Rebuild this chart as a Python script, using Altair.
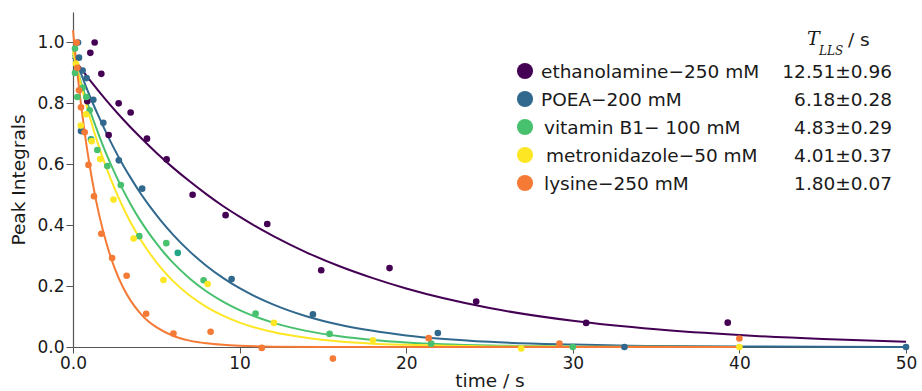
import altair as alt
import pandas as pd

series = ["ethanolamine\u2212250 mM", "POEA\u2212200 mM", "vitamin B1\u2212 100 mM",
          "metronidazole\u221250 mM", "lysine\u2212250 mM"]
colors = ["#440154", "#31688e", "#48c16e", "#fde725", "#f47a35"]
t_lls = ["12.51\u00b10.96", "6.18\u00b10.28", "4.83\u00b10.29", "4.01\u00b10.37", "1.80\u00b10.07"]
label_shift = [0, 0, 3, 5, 3]
extra_name = "extra"
extra_color = "#21a585"

# measured points (time / s, peak integral)
eth_t = [0.86, 1.04, 1.3, 1.7, 2.14, 2.74, 3.46, 4.44, 5.62, 7.18, 9.16, 11.66, 14.9, 19.0, 24.2, 30.8, 39.3]
eth_v = [0.807, 0.966, 1.0, 0.897, 0.696, 0.80, 0.77, 0.684, 0.616, 0.50, 0.433, 0.404, 0.252, 0.259, 0.149, 0.079, 0.08]

poea_t = [0.3, 0.36, 0.58, 0.82, 1.22, 1.82, 0.48, 2.75, 4.15, 9.52, 14.4, 21.9, 33.1, 50.0]
poea_v = [1.0, 0.95, 0.908, 0.883, 0.812, 0.736, 0.709, 0.613, 0.52, 0.223, 0.107, 0.046, 0.0, 0.0]

vit_t = [0.12, 0.12, 0.58, 0.26, 0.8, 1.0, 1.46, 2.06, 2.87, 3.98, 5.6, 7.84, 10.96, 15.4, 21.5, 30.0]
vit_v = [0.98, 0.90, 0.851, 0.821, 0.821, 0.777, 0.647, 0.594, 0.532, 0.364, 0.341, 0.219, 0.11, 0.043, 0.011, 0.0]

met_t = [0.18, 0.78, 0.47, 1.12, 1.63, 2.43, 3.64, 5.43, 8.08, 12.06, 18.0, 26.9, 40.0]
met_v = [0.93, 0.764, 0.727, 0.676, 0.617, 0.484, 0.356, 0.22, 0.207, 0.079, 0.022, -0.005, 0.0]

lys_t = [0.22, 0.26, 0.36, 0.48, 0.7, 0.93, 1.26, 1.7, 2.35, 3.22, 4.39, 6.03, 8.26, 11.33, 15.6, 21.35, 29.2, 40.0]
lys_v = [1.0, 0.917, 0.843, 0.787, 0.705, 0.598, 0.495, 0.372, 0.292, 0.234, 0.109, 0.044, 0.05, -0.003, -0.038, 0.029, 0.011, 0.028]

extra_t = [1.08, 6.29]
extra_v = [0.682, 0.309]

# fitted curves
eth_ct = [0, 1, 2, 3, 4, 5, 6, 7, 8, 9, 10, 11, 12, 14, 16, 18, 20, 25, 30, 35, 40, 45, 50]
eth_cv = [0.950, 0.877, 0.810, 0.748, 0.691, 0.638, 0.589, 0.544, 0.502, 0.463, 0.428, 0.395, 0.365,
          0.311, 0.265, 0.226, 0.192, 0.128, 0.086, 0.058, 0.039, 0.026, 0.017]

poea_ct = [0, 0.5, 1, 1.5, 2, 2.5, 3, 3.5, 4, 4.5, 5, 5.5, 6, 7, 8, 9, 10, 12, 14, 16, 18, 20, 25, 30, 35, 40, 50]
poea_cv = [0.970, 0.895, 0.825, 0.762, 0.703, 0.648, 0.598, 0.552, 0.509, 0.470, 0.434, 0.400, 0.369,
           0.314, 0.267, 0.227, 0.193, 0.140, 0.101, 0.073, 0.053, 0.038, 0.017, 0.008, 0.003, 0.002, 0.0]

vit_ct = [0, 0.5, 1, 1.5, 2, 2.5, 3, 3.5, 4, 4.5, 5, 5.5, 6, 7, 8, 9, 10, 12, 14, 16, 18, 20, 25, 30]
vit_cv = [0.960, 0.866, 0.780, 0.704, 0.634, 0.572, 0.516, 0.465, 0.419, 0.378, 0.341, 0.307, 0.277,
          0.225, 0.183, 0.149, 0.121, 0.080, 0.053, 0.035, 0.023, 0.015, 0.005, 0.002]

met_ct = [0, 0.5, 1, 1.5, 2, 2.5, 3, 3.5, 4, 4.5, 5, 5.5, 6, 7, 8, 9, 10, 12, 14, 16, 18, 20, 25, 30, 40]
met_cv = [0.970, 0.856, 0.756, 0.667, 0.589, 0.520, 0.459, 0.405, 0.358, 0.316, 0.279, 0.246, 0.217,
          0.169, 0.132, 0.103, 0.080, 0.049, 0.030, 0.018, 0.011, 0.007, 0.002, 0.001, 0.0]

lys_ct = [0, 0.25, 0.5, 0.75, 1, 1.25, 1.5, 1.75, 2, 2.5, 3, 3.5, 4, 4.5, 5, 6, 7, 8, 9, 10, 12, 15, 20, 30, 40]
lys_cv = [1.04, 0.905, 0.788, 0.685, 0.596, 0.519, 0.451, 0.393, 0.342, 0.259, 0.196, 0.149, 0.113,
          0.085, 0.065, 0.037, 0.021, 0.012, 0.007, 0.004, 0.001, 0.0, 0.0, 0.0, 0.0]

pts = [(eth_t, eth_v), (poea_t, poea_v), (vit_t, vit_v), (met_t, met_v), (lys_t, lys_v)]
crv = [(eth_ct, eth_cv), (poea_ct, poea_cv), (vit_ct, vit_cv), (met_ct, met_cv), (lys_ct, lys_cv)]

color_scale = alt.Scale(domain=series + [extra_name], range=colors + [extra_color])
FONT = "DejaVu Sans"

xenc = alt.X("t:Q", scale=alt.Scale(domain=[0, 50], nice=False),
             axis=alt.Axis(title="time / s", values=[0, 10, 20, 30, 40, 50],
                           labelExpr="datum.value == 0 ? '0.0' : datum.label",
                           labelFlush=False, tickSize=6, labelPadding=2, titlePadding=0, grid=False))
yenc = alt.Y("v:Q", scale=alt.Scale(domain=[0, 1.1], nice=False),
             axis=alt.Axis(title="Peak Integrals", values=[0, 0.2, 0.4, 0.6, 0.8, 1.0],
                           format=".1f", tickSize=7, labelPadding=2, titlePadding=8, grid=False,
                           labelFlush=False))

line_layers = []
point_layers = []
for name, (ct, cv), (pt, pv) in zip(series, crv, pts):
    cdf = pd.DataFrame({"t": ct, "v": cv, "s": name})
    pdf = pd.DataFrame({"t": pt, "v": pv, "s": name})
    line_layers.append(
        alt.Chart(cdf).mark_line(strokeWidth=2, interpolate="monotone").encode(
            x=xenc, y=yenc, color=alt.Color("s:N", scale=color_scale, legend=None)))
    point_layers.append(
        alt.Chart(pdf).mark_circle(size=44, opacity=1).encode(
            x=xenc, y=yenc, color=alt.Color("s:N", scale=color_scale, legend=None)))

edf = pd.DataFrame({"t": extra_t, "v": extra_v, "s": extra_name})
extra_layer = alt.Chart(edf).mark_circle(size=44, opacity=1).encode(
    x=xenc, y=yenc, color=alt.Color("s:N", scale=color_scale, legend=None))

data_layer = alt.layer(*line_layers, extra_layer, *point_layers)

# custom legend
ldf = pd.DataFrame({"s": series, "row": list(range(len(series))), "tl": t_lls,
                    "lx": [468 + d for d in label_shift]})
ly = alt.Y("row:Q", scale=alt.Scale(domain=[0, 4], range=[59, 171]), axis=None)
leg_sym = alt.Chart(ldf).mark_circle(size=260, opacity=1).encode(
    x=alt.value(452), y=ly, color=alt.Color("s:N", scale=color_scale, legend=None))
leg_lab = alt.Chart(ldf).mark_text(align="left", baseline="middle", font=FONT, fontSize=18.5,
                                   color="#1a1a1a", dy=1).encode(
    x=alt.X("lx:Q", scale=None), y=ly, text="s:N")
leg_val = alt.Chart(ldf).mark_text(align="right", baseline="middle", font=FONT, fontSize=18.5,
                                   color="#1a1a1a", dy=1).encode(
    x=alt.value(819), y=ly, text="tl:N")
legend_layer = alt.layer(leg_sym, leg_lab, leg_val)

hdr = pd.DataFrame({"k": [0]})
h_T = alt.Chart(hdr).mark_text(align="left", baseline="alphabetic", font="DejaVu Serif",
                               fontStyle="italic", fontSize=19, color="#1a1a1a").encode(
    x=alt.value(734), y=alt.value(33), text=alt.value("T"))
h_sub = alt.Chart(hdr).mark_text(align="left", baseline="alphabetic", font="DejaVu Serif",
                                 fontStyle="italic", fontSize=12, color="#1a1a1a").encode(
    x=alt.value(746), y=alt.value(43), text=alt.value("LLS"))
h_s = alt.Chart(hdr).mark_text(align="left", baseline="alphabetic", font=FONT,
                               fontSize=18.5, color="#1a1a1a").encode(
    x=alt.value(775), y=alt.value(34), text=alt.value("/ s"))
header_layer = alt.layer(h_T, h_sub, h_s)

chart = alt.layer(data_layer, legend_layer, header_layer).resolve_scale(
    y="independent"
).properties(
    width=833, height=335,
    autosize=alt.AutoSizeParams(type="none"),
    padding={"left": 73, "top": 12, "right": 16, "bottom": 44},
).configure_view(stroke=None).configure_axis(
    labelFont=FONT, titleFont=FONT, labelFontSize=17, titleFontSize=18.5,
    titleFontWeight="normal", labelColor="#1a1a1a", titleColor="#1a1a1a",
    domainColor="#555555", tickColor="#555555", domainWidth=1.2,
)

chart.save("out.html", embed_options={"renderer": "svg", "actions": False})
